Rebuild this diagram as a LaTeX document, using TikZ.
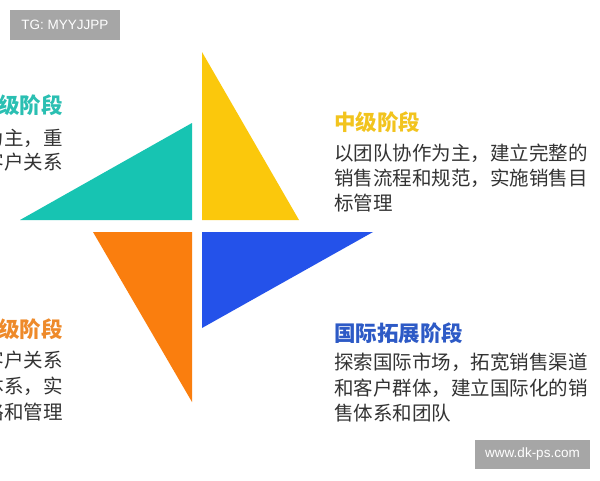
\documentclass[tikz,border=0pt]{standalone}
\usepackage{fontspec}
\newfontfamily\cjk{Noto Sans CJK SC}
\newfontfamily\wm{Liberation Sans}
\definecolor{tealc}{HTML}{17C4B2}
\definecolor{yellowc}{HTML}{FBC80C}
\definecolor{orangec}{HTML}{FA7E0E}
\definecolor{bluec}{HTML}{2452EA}
\definecolor{tealt}{HTML}{2ABFB2}
\definecolor{yellowt}{HTML}{F2C41E}
\definecolor{oranget}{HTML}{EE8A2A}
\definecolor{bluet}{HTML}{2D5AC6}
\definecolor{bodyc}{HTML}{333333}
\definecolor{wmgray}{HTML}{A6A6A6}
\tikzset{
  title/.style={inner sep=0pt, font=\cjk\bfseries\fontsize{21.5}{21.5}\selectfont},
  body/.style={inner sep=0pt, text=bodyc, font=\cjk\fontsize{19.5}{19.5}\selectfont},
  wmbox/.style={fill=wmgray, text=white, inner sep=0pt, font=\wm\fontsize{13.5}{13.5}\selectfont},
}
\begin{document}
\begin{tikzpicture}[x=1pt,y=-1pt]
\useasboundingbox (0,0) rectangle (600,480);
\fill[white] (0,0) rectangle (600,480);
\clip (0,0) rectangle (600,480);
% triangles
\fill[tealc] (20,220) -- (192,123) -- (192,220) -- cycle;
\fill[yellowc] (202,52) -- (202,220) -- (299,220) -- cycle;
\fill[orangec] (93,232) -- (192,232) -- (192,402) -- cycle;
\fill[bluec] (202,232) -- (373,232) -- (202,328) -- cycle;
% top-left (cut off)
\node[title, text=tealt, anchor=east] (tlt) at (63,105) {级阶段};
\node[body, anchor=east] (tl1) at (63,138) {为主，重};
\node[body, anchor=east] (tl2) at (63,162) {客户关系};
% bottom-left (cut off)
\node[title, text=oranget, anchor=east] (blt) at (63,329) {级阶段};
\node[body, anchor=east] (bl1) at (63,360) {客户关系};
\node[body, anchor=east] (bl2) at (63,386) {体系，实};
\node[body, anchor=east] (bl3) at (63,412) {略和管理};
% top-right
\node[title, text=yellowt, anchor=west] (trt) at (334,122) {中级阶段};
\node[body, anchor=west] (tr1) at (334,153) {以团队协作为主，建立完整的};
\node[body, anchor=west] (tr2) at (334,178) {销售流程和规范，实施销售目};
\node[body, anchor=west] (tr3) at (334,203) {标管理};
% bottom-right
\node[title, text=bluet, anchor=west] (brt) at (334,333) {国际拓展阶段};
\node[body, anchor=west] (br1) at (334,362) {探索国际市场，拓宽销售渠道};
\node[body, anchor=west] (br2) at (334,388) {和客户群体，建立国际化的销};
\node[body, anchor=west] (br3) at (334,413) {售体系和团队};
% watermarks
\node[wmbox, minimum width=110pt, minimum height=30pt] (wm1) at (65,25) {TG: MYYJJPP};
\node[wmbox, minimum width=115pt, minimum height=29pt] (wm2) at (532.5,454.5) {www.dk-ps.com};
\end{tikzpicture}
\end{document}
